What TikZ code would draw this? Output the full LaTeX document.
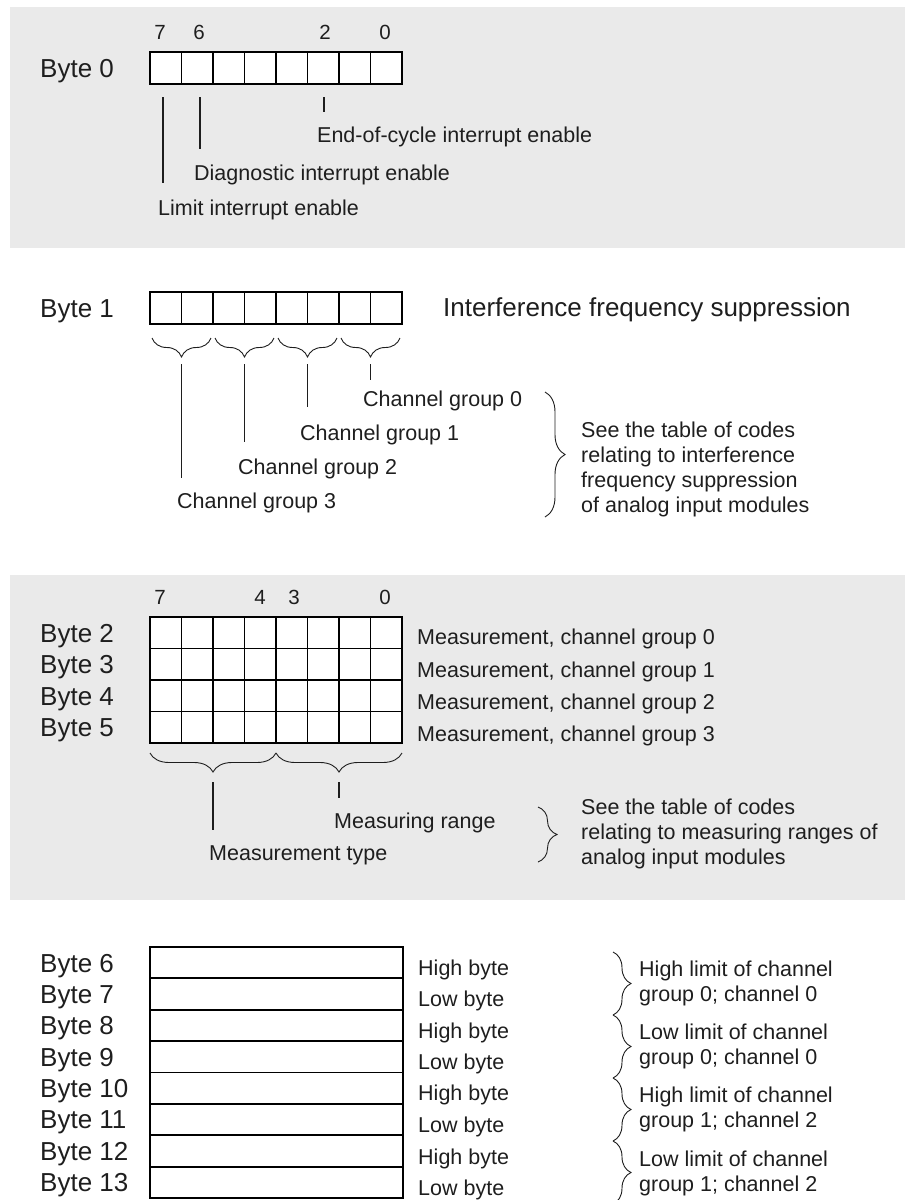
\documentclass[tikz,border=0pt]{standalone}
\usepackage{fontspec}
\setmainfont{Liberation Sans}
\usetikzlibrary{decorations.pathreplacing}
\definecolor{panelgray}{RGB}{234,234,234}
\definecolor{ink}{RGB}{30,30,30}
\begin{document}
\begin{tikzpicture}[x=1pt,y=-1pt,
  panel/.style={fill=panelgray,draw=none},
  cellgrid/.style={draw=black,line width=1.8pt,fill=white},
  conn/.style={draw=ink,line width=1.3pt},
  brc/.style={draw=ink,line width=0.9pt,decorate,decoration={brace,amplitude=#1}},
  big/.style={font=\fontsize{26}{30}\selectfont,text=ink,inner sep=0pt,anchor=base west},
  small/.style={font=\fontsize{21.5}{25}\selectfont,text=ink,inner sep=0pt,anchor=base west},
  dig/.style={font=\fontsize{20.5}{24}\selectfont,text=ink,inner sep=0pt,anchor=base},
]
\useasboundingbox (0,0) rectangle (905,1200);
\clip (0,0) rectangle (905,1200);
% panels
\fill[panel] (10,7) rectangle (905,248);
\fill[panel] (10,575) rectangle (905,900);

% ---------------- Byte 0
\node[big] (lb0) at (40,77.3) {Byte 0};
\foreach \i in {0,...,7} \draw[cellgrid] ({150+31.5*\i},52) rectangle ({150+31.5*(\i+1)},84);
\node[dig] (d7a) at (160,39.5) {7};
\node[dig] (d6a) at (199,39.5) {6};
\node[dig] (d2a) at (325,39.5) {2};
\node[dig] (d0a) at (385,39.5) {0};
\coordinate (l7t) at (163,97); \coordinate (l7b) at (163,183);
\coordinate (l6t) at (200,97); \coordinate (l6b) at (200,149);
\coordinate (l2t) at (324,97); \coordinate (l2b) at (324,112);
\draw[conn] (l7t) -- (l7b);
\draw[conn] (l6t) -- (l6b);
\draw[conn] (l2t) -- (l2b);
\node[small] (eoc) at (317,142.7) {End-of-cycle interrupt enable};
\node[small] (diag) at (194,180.7) {Diagnostic interrupt enable};
\node[small] (lim) at (158,215.7) {Limit interrupt enable};

% ---------------- Byte 1
\node[big] (lb1) at (40,317.3) {Byte 1};
\foreach \i in {0,...,7} \draw[cellgrid] ({150+31.5*\i},292) rectangle ({150+31.5*(\i+1)},324);
\node[big] (ifs) at (443,316.3) {Interference frequency suppression};
\foreach \k in {0,...,3} {
  \draw[brc=19pt] ({150+63*(\k+1)-2},338) -- ({150+63*\k+2},338);
}
\coordinate (g3t) at (181.5,364); \coordinate (g3b) at (181.5,478);
\coordinate (g2t) at (244.5,364); \coordinate (g2b) at (244.5,442);
\coordinate (g1t) at (307.5,364); \coordinate (g1b) at (307.5,407);
\coordinate (g0t) at (370.5,364); \coordinate (g0b) at (370.5,380);
\draw[conn] (g3t) -- (g3b);
\draw[conn] (g2t) -- (g2b);
\draw[conn] (g1t) -- (g1b);
\draw[conn] (g0t) -- (g0b);
\node[small] (cg0) at (363,406.7) {Channel group 0};
\node[small] (cg1) at (300,440.7) {Channel group 1};
\node[small] (cg2) at (238,474.7) {Channel group 2};
\node[small] (cg3) at (177,508.7) {Channel group 3};
\draw[brc=20pt] (545,392) -- (545,517);
\node[small] (s1a) at (581,437.7) {See the table of codes};
\node[small] (s1b) at (581,462.7) {relating to interference};
\node[small] (s1c) at (581,487.7) {frequency suppression};
\node[small] (s1d) at (581,512.7) {of analog input modules};

% ---------------- Bytes 2-5
\node[dig] (d7b) at (160,604.5) {7};
\node[dig] (d4b) at (260,604.5) {4};
\node[dig] (d3b) at (294,604.5) {3};
\node[dig] (d0b) at (385,604.5) {0};
\foreach \r in {0,...,3} \foreach \i in {0,...,7}
  \draw[cellgrid] ({150+31.5*\i},{617+31.5*\r}) rectangle ({150+31.5*(\i+1)},{617+31.5*(\r+1)});
\foreach \r/\n in {0/2,1/3,2/4,3/5}
  \node[big] (lb\n) at (40,{617+31.5*\r+15.75+9.3}) {Byte \n};
\node[small] (m0) at (417,644.7) {Measurement, channel group 0};
\node[small] (m1) at (417,677.2) {Measurement, channel group 1};
\node[small] (m2) at (417,709.2) {Measurement, channel group 2};
\node[small] (m3) at (417,741.7) {Measurement, channel group 3};
\draw[brc=19pt] (276,753) -- (150,753);
\draw[brc=19pt] (402,753) -- (276,753);
\coordinate (mtt) at (213,782); \coordinate (mtb) at (213,830);
\coordinate (mrt) at (339,782); \coordinate (mrb) at (339,798);
\draw[conn] (mtt) -- (mtb);
\draw[conn] (mrt) -- (mrb);
\node[small] (mr) at (334,828.7) {Measuring range};
\node[small] (mt) at (209,860.7) {Measurement type};
\draw[brc=19pt] (538,807) -- (538,862);
\node[small] (s2a) at (581,814.7) {See the table of codes};
\node[small] (s2b) at (581,839.7) {relating to measuring ranges of};
\node[small] (s2c) at (581,864.7) {analog input modules};

% ---------------- Bytes 6-13
\foreach \r in {0,...,7}
  \draw[cellgrid] (150,{947+31.375*\r}) rectangle (403,{947+31.375*(\r+1)});
\foreach \r/\n in {0/6,1/7,2/8,3/9,4/10,5/11,6/12,7/13}
  \node[big] (lb\n) at (40,{947+31.375*\r+15.7+9.3}) {Byte \n};
\node[small] (hb6) at (418,975.7) {High byte};
\node[small] (lw7) at (418,1006.7) {Low byte};
\node[small] (hb8) at (418,1038.7) {High byte};
\node[small] (lw9) at (418,1069.7) {Low byte};
\node[small] (hb10) at (418,1100.7) {High byte};
\node[small] (lw11) at (418,1132.7) {Low byte};
\node[small] (hb12) at (418,1164.7) {High byte};
\node[small] (lw13) at (418,1195.7) {Low byte};
\draw[brc=18pt] (613,952) -- (613,1015);
\draw[brc=18pt] (613,1015) -- (613,1078);
\draw[brc=18pt] (613,1078) -- (613,1141);
\draw[brc=18pt] (613,1141) -- (613,1204);
\node[small] (t1a) at (639,976.7) {High limit of channel};
\node[small] (t1b) at (639,1001.7) {group 0; channel 0};
\node[small] (t2a) at (639,1039.7) {Low limit of channel};
\node[small] (t2b) at (639,1064.7) {group 0; channel 0};
\node[small] (t3a) at (639,1102.7) {High limit of channel};
\node[small] (t3b) at (639,1127.7) {group 1; channel 2};
\node[small] (t4a) at (639,1166.7) {Low limit of channel};
\node[small] (t4b) at (639,1191.7) {group 1; channel 2};
\end{tikzpicture}
\end{document}
